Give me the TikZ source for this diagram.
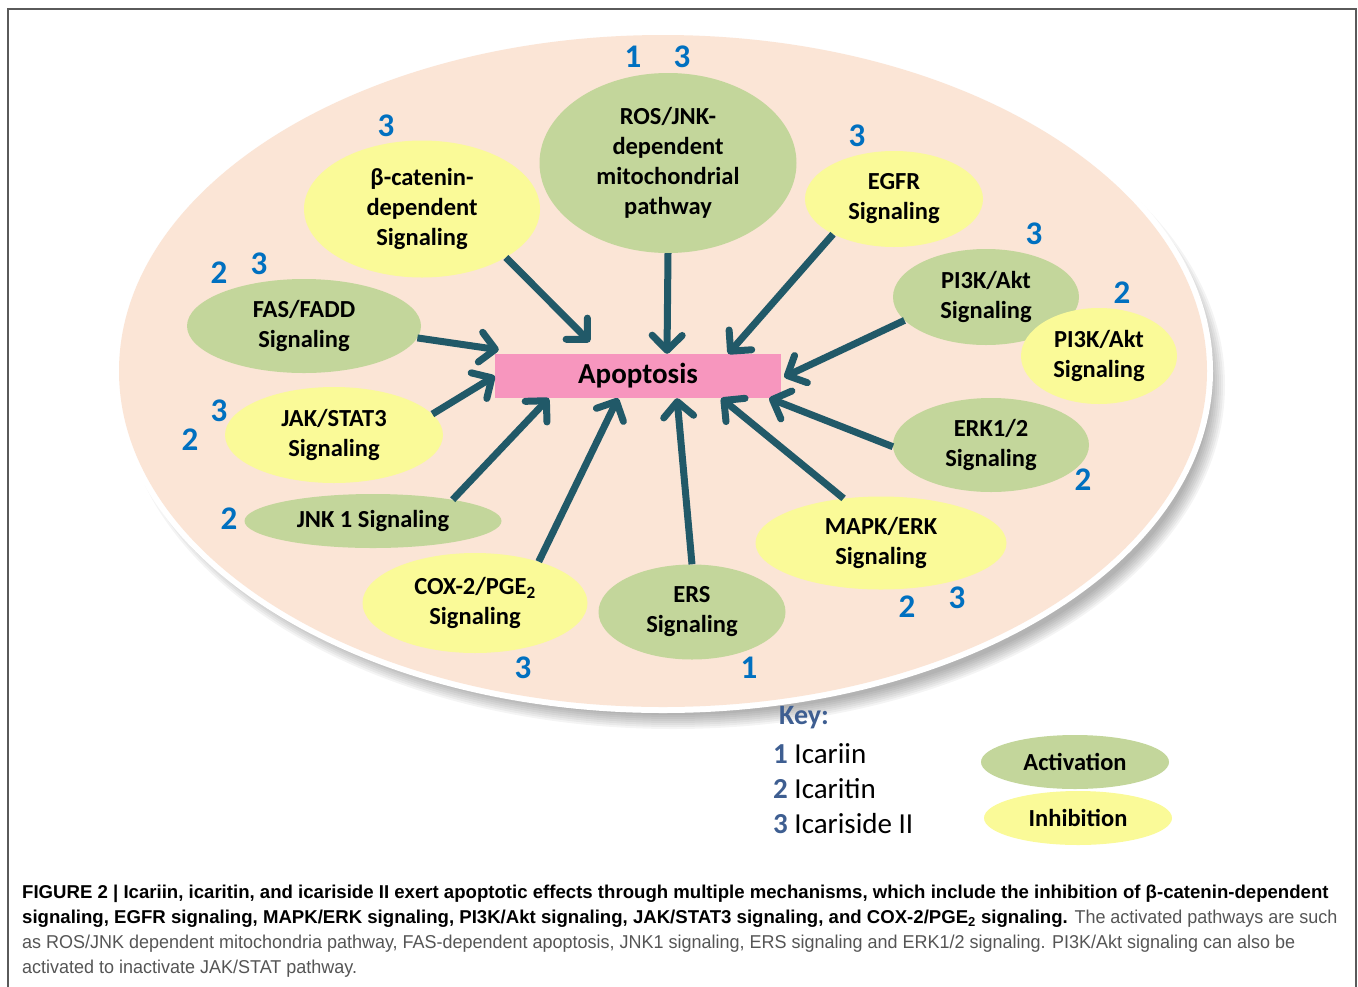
\documentclass[tikz,border=0pt]{standalone}
\usepackage{fontspec}
\setmainfont{Carlito}
\newfontfamily\capfont{Liberation Sans}[FakeStretch=0.967, BoldFeatures={FakeStretch=1.0}]
\usepackage{xcolor}
\usepackage{tikz}
\usetikzlibrary{shapes,arrows.meta,calc,positioning}
\definecolor{actgreen}{RGB}{195,214,155}
\definecolor{inhyellow}{RGB}{250,250,152}
\definecolor{cellpeach}{RGB}{251,229,214}
\definecolor{apopink}{RGB}{247,150,190}
\definecolor{arrowteal}{RGB}{33,89,104}
\definecolor{drugblue}{RGB}{0,112,192}
\definecolor{keyblue}{RGB}{62,94,145}
\definecolor{capgray}{RGB}{85,85,85}
\definecolor{framegray}{RGB}{90,90,90}
\newcommand{\sigfont}{\fontsize{24.5}{30}\selectfont\bfseries}
\newcommand{\drugnumfont}{\fontsize{33}{33}\selectfont\bfseries}
\tikzstyle{arrow} = [draw=arrowteal, line width=7pt, -{Straight Barb[length=15pt,width=30pt,round]}]
\tikzstyle{act} = [ellipse, fill=actgreen, inner sep=0pt, align=center, font=\sigfont]
\tikzstyle{inh} = [ellipse, fill=inhyellow, inner sep=0pt, align=center, font=\sigfont]
\tikzstyle{drug} = [text=drugblue, font=\drugnumfont, inner sep=0pt]

\begin{document}
\begin{tikzpicture}[
      x=1pt, y=-1pt
    ]
      \useasboundingbox (0,0) rectangle (1358,986);
      \clip (0,0) rectangle (1358,986);
      \draw[framegray, line width=1.3pt] (8,995) -- (8,9) -- (1356,9) -- (1356,995);

      % cell
      \foreach \s in {0,2,...,14}
        \fill[black, opacity=0.045] (673,385) ellipse ({538+\s} and {330+\s});
      \fill[white] (663,371) ellipse (550 and 342);
      \fill[cellpeach] (663,371) ellipse (544 and 336);

      % pathways
      \node[act, minimum width=257pt, minimum height=180pt] (ros)  at (668,163) {ROS/JNK-\\dependent\\mitochondrial\\pathway};
      \node[inh, minimum width=236pt, minimum height=137pt] (bcat) at (422,209) {β-catenin-\\dependent\\Signaling};
      \node[inh, minimum width=178pt, minimum height=96pt]  (egfr) at (894,199) {EGFR\\Signaling};
      \node[act, minimum width=186pt, minimum height=96pt]  (pig)  at (986,297) {PI3K/Akt\\Signaling};
      \node[inh, minimum width=156pt, minimum height=96pt]  (piy)  at (1099,356) {PI3K/Akt\\Signaling};
      \node[act, minimum width=196pt, minimum height=94pt]  (erk)  at (991,445) {ERK1/2\\Signaling};
      \node[inh, minimum width=251pt, minimum height=93pt]  (mapk) at (881,543) {MAPK/ERK\\Signaling};
      \node[act, minimum width=187pt, minimum height=95pt]  (ers)  at (692,612) {ERS\\Signaling};
      \node[inh, minimum width=225pt, minimum height=100pt] (cox)  at (475,603) {COX-2/PGE\textsubscript{2}\\Signaling};
      \node[act, minimum width=257pt, minimum height=54pt]  (jnk)  at (373,521) {JNK 1 Signaling};
      \node[inh, minimum width=218pt, minimum height=96pt]  (jak)  at (334,435) {JAK/STAT3\\Signaling};
      \node[act, minimum width=234pt, minimum height=94pt]  (fas)  at (304,326) {FAS/FADD\\Signaling};

      \node[fill=apopink, minimum width=286pt, minimum height=44pt, inner sep=0pt,
            font=\fontsize{29}{29}\selectfont\bfseries] (apo) at (638,376) {Apoptosis};

      % compounds
      \node[drug] (rosa)  at (633,57)  {1};
      \node[drug] (rosb)  at (682,57)  {3};
      \node[drug] (bcata) at (386,126) {3};
      \node[drug] (egfra) at (857,136) {3};
      \node[drug] (fasa)  at (219,273) {2};
      \node[drug] (fasb)  at (259,264) {3};
      \node[drug] (piga)  at (1034,234) {3};
      \node[drug] (piya)  at (1122,293) {2};
      \node[drug] (jaka)  at (219,411) {3};
      \node[drug] (jakb)  at (190,440) {2};
      \node[drug] (jnka)  at (229,519) {2};
      \node[drug] (erka)  at (1083,480) {2};
      \node[drug] (mapka) at (907,607) {2};
      \node[drug] (mapkb) at (957,598) {3};
      \node[drug] (coxa)  at (523,668) {3};
      \node[drug] (ersa)  at (749,668) {1};

      % arrows
      \draw[arrow] (bcat.-30)  -- ($(apo.north west)+(95,-12)$);
      \draw[arrow] (ros.south) -- ($(apo.north)+(29,0)$);
      \draw[arrow] (egfr.-150) -- ($(apo.north east)+(-53,0)$);
      \draw[arrow] (pig.-164)  -- ($(apo.east)+(3,1)$);
      \draw[arrow] (erk.181)   -- ($(apo.south east)+(-12,0)$);
      \draw[arrow] (mapk.130)  -- ($(apo.south east)+(-60,0)$);
      \draw[arrow] (ers.north) -- ($(apo.south)+(39,0)$);
      \draw[arrow] (cox.33)    -- ($(apo.south)+(-20,0)$);
      \draw[arrow] (jnk.15)    -- ($(apo.south west)+(54,0)$);
      \draw[arrow] (jak.12)    -- (apo.west);
      \draw[arrow] (fas.-6)    -- ($(apo.north west)+(4,-4)$);

      % key
      \node[anchor=west, inner sep=0pt, text=keyblue, font=\fontsize{28}{28}\selectfont\bfseries] (key) at (779,718) {Key:};
      \node[anchor=west, inner sep=0pt, font=\fontsize{29}{29}\selectfont] (keya) at (773,754) {\textcolor{keyblue}{\bfseries 1} Icariin};
      \node[anchor=west, inner sep=0pt, font=\fontsize{29}{29}\selectfont] (keyb) at (773,789) {\textcolor{keyblue}{\bfseries 2} Icaritin};
      \node[anchor=west, inner sep=0pt, font=\fontsize{29}{29}\selectfont] (keyc) at (773,824) {\textcolor{keyblue}{\bfseries 3} Icariside II};
      \node[act, minimum width=188pt, minimum height=54pt] (keyact) at (1075,762) {Activation};
      \node[inh, minimum width=188pt, minimum height=54pt] (keyinh) at (1078,818) {Inhibition};

      % caption
      \node[anchor=north west, inner sep=0pt, align=left, text=capgray,
            font=\capfont\fontsize{18.6}{25}\selectfont] (caption) at (22,885)
        {\textcolor{black}{\bfseries FIGURE 2 | Icariin, icaritin, and icariside II exert apoptotic effects through multiple mechanisms, which include the inhibition of β-catenin-dependent}\\
         \textcolor{black}{\bfseries signaling, EGFR signaling, MAPK/ERK signaling, PI3K/Akt signaling, JAK/STAT3 signaling, and COX-2/PGE\textsubscript{2} signaling.} The activated pathways are such\\
         as ROS/JNK dependent mitochondria pathway, FAS-dependent apoptosis, JNK1 signaling, ERS signaling and ERK1/2 signaling. PI3K/Akt signaling can also be\\
         activated to inactivate JAK/STAT pathway.};
    \end{tikzpicture}
\end{document}
